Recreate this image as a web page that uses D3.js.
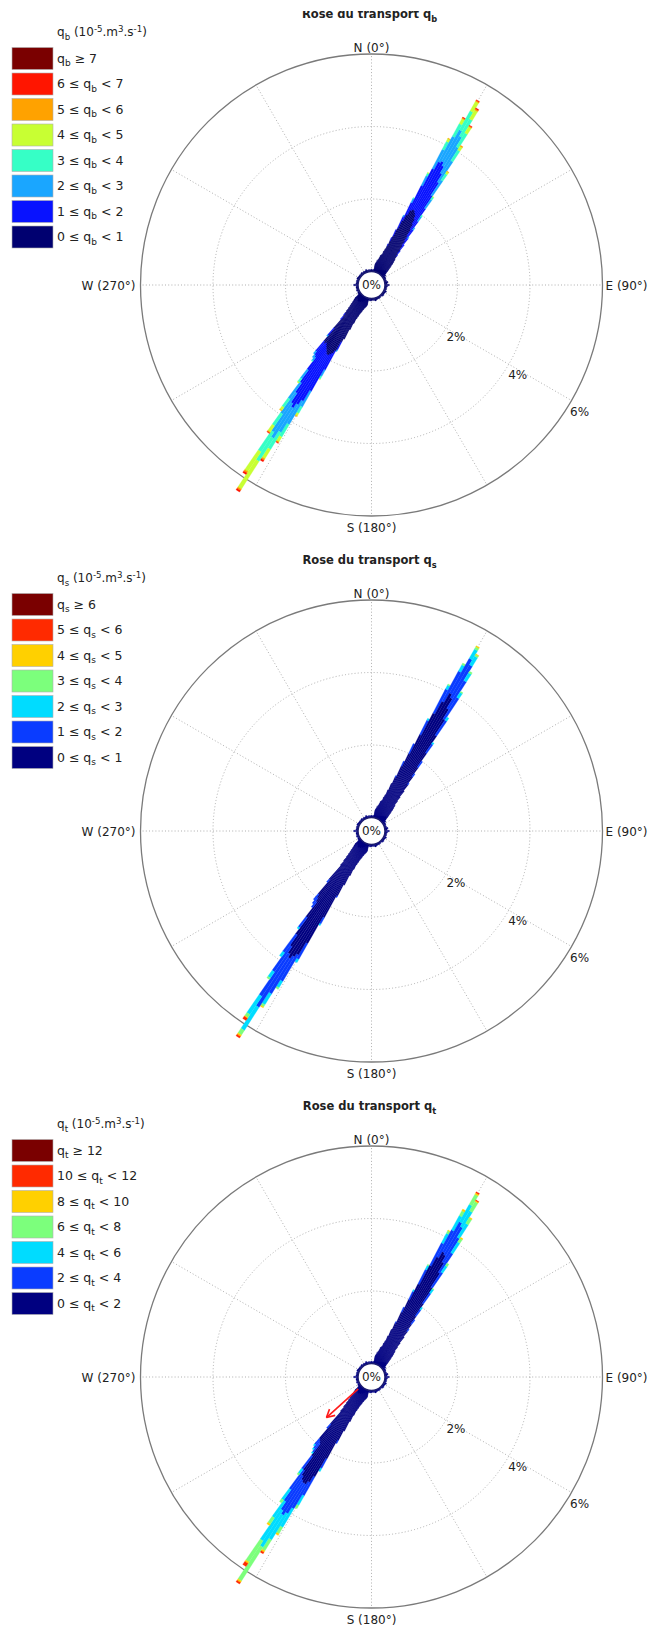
<!DOCTYPE html>
<html><head><meta charset="utf-8">
<script src="https://cdn.jsdelivr.net/npm/d3@7"></script>
<style>
body{margin:0;background:#fff}
svg{display:block}
text{font-family:"DejaVu Sans",sans-serif;fill:#222}
</style>
</head><body>
<svg id="c" width="650" height="1626"></svg>
<script>
// ---------- DATA ----------
const compassLabels = ["N (0°)", "E (90°)", "S (180°)", "W (270°)"];
const ringTicks = [2, 4, 6];
const ringLabels = ["2%", "4%", "6%"];
const spokeAngles = [0, 30, 60, 90, 120, 150, 180, 210, 240, 270, 300, 330];

// small "calm" frequencies all around (5° bins)
const calmDirs = [0,5,10,15,20,25,30,35,40,45,50,55,60,65,70,75,80,85,90,95,100,105,110,115,
  120,125,130,135,140,145,150,155,160,165,170,175,180,185,190,195,200,205,210,215,220,225,230,235,
  240,245,250,255,260,265,270,275,280,285,290,295,300,305,310,315,320,325,330,335,340,345,350,355];
const calmFreq = [0.06,0.05,0.07,0.05,0.06,0.08,0.1,0.12,0.15,0.18,0.14,0.1,
  0.07,0.06,0.05,0.06,0.09,0.06,0.12,0.07,0.05,0.06,0.05,0.08,
  0.06,0.05,0.07,0.06,0.04,0.05,0.06,0.05,0.06,0.08,0.06,0.05,
  0.06,0.07,0.05,0.06,0.05,0.1,0.14,0.18,0.2,0.16,0.12,0.08,
  0.06,0.05,0.07,0.05,0.06,0.05,0.12,0.06,0.05,0.06,0.05,0.07,
  0.06,0.05,0.06,0.05,0.07,0.05,0.06,0.05,0.08,0.05,0.06,0.05];

// petal flanks (lowest class only, 1° bins), same for the three roses
const flankDirs = [10,11,12,13,14,15,16,17,18,19,20,21, 42,43,44,45,46,47,48,49,50,
  192,193,194,195,196,197,198,199,200,201,202,203,204,205, 224,225,226,227,228,229,230,231,232];
const flankFreq = [0.22,0.25,0.27,0.34,0.3,0.36,0.41,0.48,0.5,0.52,0.62,0.7,
  0.6,0.56,0.5,0.46,0.39,0.34,0.28,0.24,0.2,
  0.2,0.22,0.25,0.26,0.29,0.3,0.34,0.36,0.41,0.45,0.5,0.57,0.65,0.8,
  0.62,0.53,0.45,0.39,0.33,0.28,0.26,0.22,0.2];

const neDirs = [22,23,24,25,26,27,28,29,30,31,32,33,34,35,36,37,38,39,40,41];
const swDirs = [206,207,208,209,210,211,212,213,214,215,216,217,218,219,220,221,222,223];

// per-bin frequency (%) of each class, lowest class first
const qbNE = [[0.8,0.05],[0.95,0.1],[1.1,0.2],[1.35,0.35,0.05],[1.6,0.55,0.12,0.03],
  [1.8,0.9,0.3,0.08,0.02],[1.95,1.3,0.6,0.25,0.08,0.02],[2.0,1.5,0.8,0.4,0.15,0.03,0.02],
  [2.0,1.55,1.0,0.6,0.3,0.03,0.02],[1.95,1.5,0.95,0.55,0.28,0.04,0.03],[1.9,1.35,0.85,0.45,0.2,0.03,0.02],
  [1.8,1.2,0.7,0.35,0.12,0.03],[1.65,0.95,0.5,0.22,0.06,0.02],[1.5,0.7,0.3,0.08,0.02],
  [1.3,0.5,0.15,0.05],[1.15,0.37,0.08],[1.0,0.25,0.05],[0.88,0.17],[0.75,0.1],[0.68,0.04]];
const qbSW = [[1.0],[1.3],[1.4,0.25,0.05],[1.7,0.6,0.2,0.08,0.02],[1.8,1.2,0.5,0.2,0.08,0.02],
  [1.85,1.5,0.75,0.4,0.15,0.03,0.02],[1.9,1.6,0.9,0.55,0.3,0.05,0.05],[1.9,1.75,1.0,0.75,0.9,0.05,0.05],
  [1.85,1.7,0.95,0.65,0.65,0.05,0.05],[1.8,1.45,0.7,0.4,0.2,0.03,0.02],[1.75,1.2,0.55,0.28,0.1,0.02],
  [1.7,0.85,0.3,0.12,0.03],[1.65,0.5,0.12,0.03],[1.7,0.4,0.1],[1.65,0.35,0.1],[1.2,0.25,0.05],[0.8,0.1],[0.7,0.05]];

const qsNE = [[0.85],[1.05],[1.25,0.05],[1.6,0.15],[2.0,0.3],[2.6,0.45,0.05],[3.3,0.75,0.12,0.03],
  [3.7,0.95,0.2,0.05],[4.0,1.1,0.3,0.07,0.03],[3.9,1.05,0.28,0.05,0.02],[3.6,0.9,0.25,0.05],
  [3.3,0.7,0.17,0.03],[2.8,0.5,0.1],[2.25,0.3,0.05],[1.8,0.2],[1.5,0.1],[1.25,0.05],[1.05],[0.85],[0.72]];
const qsSW = [[1.0],[1.3],[1.65,0.05],[2.35,0.2,0.05],[3.2,0.5,0.1],[3.6,0.85,0.2,0.05],
  [3.7,1.2,0.35,0.07,0.03],[3.8,1.6,0.75,0.15,0.05,0.05],[3.7,1.4,0.6,0.1,0.03,0.07],
  [3.5,0.85,0.2,0.05],[3.15,0.6,0.15],[2.6,0.35,0.05],[2.1,0.2],[2.0,0.2],[1.9,0.2],[1.4,0.1],[0.9],[0.75]];

const qtNE = [[0.85],[1.05],[1.25,0.05],[1.6,0.15],[2.0,0.25,0.05],[2.5,0.45,0.12,0.03],
  [3.1,0.7,0.3,0.08,0.02],[3.4,0.85,0.45,0.15,0.05],[3.6,0.95,0.55,0.32,0.05,0.03],
  [3.55,0.9,0.5,0.3,0.03,0.02],[3.35,0.8,0.45,0.17,0.03],[3.05,0.65,0.35,0.12,0.03],
  [2.6,0.5,0.22,0.08],[2.1,0.35,0.12,0.03],[1.7,0.22,0.08],[1.45,0.15],[1.22,0.08],[1.05],[0.85],[0.72]];
const qtSW = [[1.0],[1.3],[1.6,0.1],[2.2,0.3,0.1],[2.8,0.6,0.3,0.1],[3.0,0.85,0.6,0.2,0.05],
  [3.1,0.95,0.85,0.35,0.05,0.05],[3.1,1.05,1.05,1.1,0.05,0.05],[3.05,1.0,1.0,0.7,0.05,0.1],
  [2.95,0.85,0.55,0.2,0.05],[2.8,0.65,0.35,0.1],[2.35,0.45,0.15,0.05],[1.95,0.3,0.05],
  [1.9,0.25,0.05],[1.85,0.2,0.05],[1.35,0.15],[0.9],[0.75]];

// mean transport vector for q_t (direction °, from %, to %)
const qtMeanDir = 228;
const qtMeanSpan = [0.12, 1.3];

const qbColors = ["#000070","#0812ff","#1aa6ff","#36ffc6","#c8ff33","#ffa200","#ff1500","#7a0000"];
const qsColors = ["#000080","#0a3cff","#00dcff","#7cff7c","#ffd000","#ff2a00","#7a0000"];
const qtColors = ["#000080","#0a3cff","#00dcff","#7cff7c","#ffd000","#ff2a00","#7a0000"];

const qbLabels = ["0 ≤ q_b < 1","1 ≤ q_b < 2","2 ≤ q_b < 3","3 ≤ q_b < 4","4 ≤ q_b < 5","5 ≤ q_b < 6","6 ≤ q_b < 7","q_b ≥ 7"];
const qsLabels = ["0 ≤ q_s < 1","1 ≤ q_s < 2","2 ≤ q_s < 3","3 ≤ q_s < 4","4 ≤ q_s < 5","5 ≤ q_s < 6","q_s ≥ 6"];
const qtLabels = ["0 ≤ q_t < 2","2 ≤ q_t < 4","4 ≤ q_t < 6","6 ≤ q_t < 8","8 ≤ q_t < 10","10 ≤ q_t < 12","q_t ≥ 12"];

const titles = ["Rose du transport q_b","Rose du transport q_s","Rose du transport q_t"];
const units = ["q_b (10^-5.m^3.s^-1)","q_s (10^-5.m^3.s^-1)","q_t (10^-5.m^3.s^-1)"];

// ---------- DRAWING ----------
const svg = d3.select("#c");
const CX = 371.5, CY = 285;
const r = d3.scaleLinear().domain([0, 6]).range([13.5, 231]);
const rad = d => d * Math.PI / 180;
const arc = d3.arc();

function rich(sel, str) {
  const parts = str.split(/(_[a-z]|\^-?\d+)/).filter(s => s.length);
  let shift = 0;
  parts.forEach(p => {
    let txt = p, target = 0, small = false;
    if (p[0] === "_") { txt = p.slice(1); target = 3.5; small = true; }
    else if (p[0] === "^") { txt = p.slice(1); target = -4.5; small = true; }
    const t = sel.append("tspan").text(txt).attr("dy", target - shift);
    if (small) t.attr("font-size", "72%");
    shift = target;
  });
}

function segmentsOf(dirs, rows, width) {
  const out = [];
  dirs.forEach((d, i) => {
    let cum = 0;
    rows[i].forEach((v, k) => {
      if (v > 0) out.push({dir: d, w: width, a: cum, b: cum + v, cls: k});
      cum += v;
    });
  });
  return out;
}

function drawRose(idx, offY, ne, sw, colors, labels, arrow) {
  const g = svg.append("g").attr("transform", `translate(0,${offY})`);
  const c = g.append("g").attr("transform", `translate(${CX},${CY})`);

  c.selectAll("circle.ring").data(ringTicks.slice(0, -1)).join("circle").attr("class", "ring")
    .attr("r", d => r(d)).attr("fill", "none").attr("stroke", "#a6a6a6")
    .attr("stroke-width", 0.9).attr("stroke-dasharray", "1,2.2");
  c.selectAll("line.spoke").data(spokeAngles).join("line").attr("class", "spoke")
    .attr("x1", d => r(0) * Math.sin(rad(d))).attr("y1", d => -r(0) * Math.cos(rad(d)))
    .attr("x2", d => r(6) * Math.sin(rad(d))).attr("y2", d => -r(6) * Math.cos(rad(d)))
    .attr("stroke", "#a6a6a6").attr("stroke-width", 0.9).attr("stroke-dasharray", "1,2.2");
  c.append("circle").attr("r", r(6)).attr("fill", "none").attr("stroke", "#7a7a7a").attr("stroke-width", 1.3);

  // compass labels
  const R = r(6);
  c.append("text").attr("x", 0).attr("y", -R - 2).attr("text-anchor", "middle").attr("font-size", 12).text(compassLabels[0]);
  c.append("text").attr("x", R + 3).attr("y", 5).attr("text-anchor", "start").attr("font-size", 12).text(compassLabels[1]);
  c.append("text").attr("x", 0).attr("y", R + 16).attr("text-anchor", "middle").attr("font-size", 12).text(compassLabels[2]);
  c.append("text").attr("x", -R - 5).attr("y", 5).attr("text-anchor", "end").attr("font-size", 12).text(compassLabels[3]);

  // ring labels
  c.selectAll("text.rl").data(ringTicks).join("text").attr("class", "rl")
    .attr("x", d => (r(d) + 13) * Math.sin(rad(121.5)))
    .attr("y", d => -(r(d) + 13) * Math.cos(rad(121.5)))
    .attr("text-anchor", "middle").attr("dominant-baseline", "central").attr("font-size", 12)
    .text((d, i) => ringLabels[i]);

  // bars
  const segs = []
    .concat(calmDirs.map((d, i) => ({dir: d, w: 5, a: 0, b: calmFreq[i], cls: 0})))
    .concat(flankDirs.map((d, i) => ({dir: d, w: 1, a: 0, b: flankFreq[i], cls: 0})))
    .concat(segmentsOf(neDirs, ne, 1))
    .concat(segmentsOf(swDirs, sw, 1));
  c.selectAll("path.bar").data(segs).join("path").attr("class", "bar")
    .attr("d", s => arc({innerRadius: r(s.a), outerRadius: r(s.b),
      startAngle: rad(s.dir - s.w / 2), endAngle: rad(s.dir + s.w / 2)}))
    .attr("fill", s => colors[s.cls]).attr("stroke", s => colors[s.cls]).attr("stroke-width", 0.3);

  // center
  c.append("circle").attr("r", r(0)).attr("fill", "#fff").attr("stroke", "#1b1b70").attr("stroke-width", 1.5);
  c.append("text").attr("x", 0).attr("y", 0).attr("text-anchor", "middle").attr("dominant-baseline", "central")
    .attr("font-size", 12).text("0%");

  if (arrow) {
    const [dir, p0, p1] = arrow;
    const x0 = r(p0) * Math.sin(rad(dir)), y0 = -r(p0) * Math.cos(rad(dir));
    const x1 = r(p1) * Math.sin(rad(dir)), y1 = -r(p1) * Math.cos(rad(dir));
    const ag = c.append("g").attr("stroke", "#ff1a1a").attr("stroke-width", 1.6).attr("fill", "none");
    ag.append("line").attr("x1", x0).attr("y1", y0).attr("x2", x1).attr("y2", y1);
    [-28, 28].forEach(o => {
      const b = rad(dir + 180 + o);
      ag.append("line").attr("x1", x1).attr("y1", y1)
        .attr("x2", x1 + 9 * Math.sin(b)).attr("y2", y1 - 9 * Math.cos(b));
    });
  }

  // title
  const tt = g.append("text").attr("x", 369.5).attr("y", 18).attr("text-anchor", "middle")
    .attr("font-size", 11.5).attr("font-weight", "bold").attr("fill", "#111");
  rich(tt, titles[idx]);
  if (idx === 0) g.append("rect").attr("x", 280).attr("y", 0).attr("width", 180).attr("height", 11).attr("fill", "#fff");

  // legend
  const ht = g.append("text").attr("x", 57).attr("y", 36).attr("font-size", 12);
  rich(ht, units[idx]);
  const order = d3.range(labels.length).reverse();
  order.forEach((k, j) => {
    const y = 47.5 + j * 25.5;
    g.append("rect").attr("x", 12).attr("y", y).attr("width", 41).attr("height", 22)
      .attr("fill", colors[k]).attr("stroke", "#b0b0b0").attr("stroke-width", 0.6);
    const t = g.append("text").attr("x", 57).attr("y", y + 15).attr("font-size", 12.5);
    rich(t, labels[k]);
  });
}

drawRose(0, 0, qbNE, qbSW, qbColors, qbLabels, null);
drawRose(1, 546, qsNE, qsSW, qsColors, qsLabels, null);
drawRose(2, 1092, qtNE, qtSW, qtColors, qtLabels, [qtMeanDir, qtMeanSpan[0], qtMeanSpan[1]]);
</script>
</body></html>
